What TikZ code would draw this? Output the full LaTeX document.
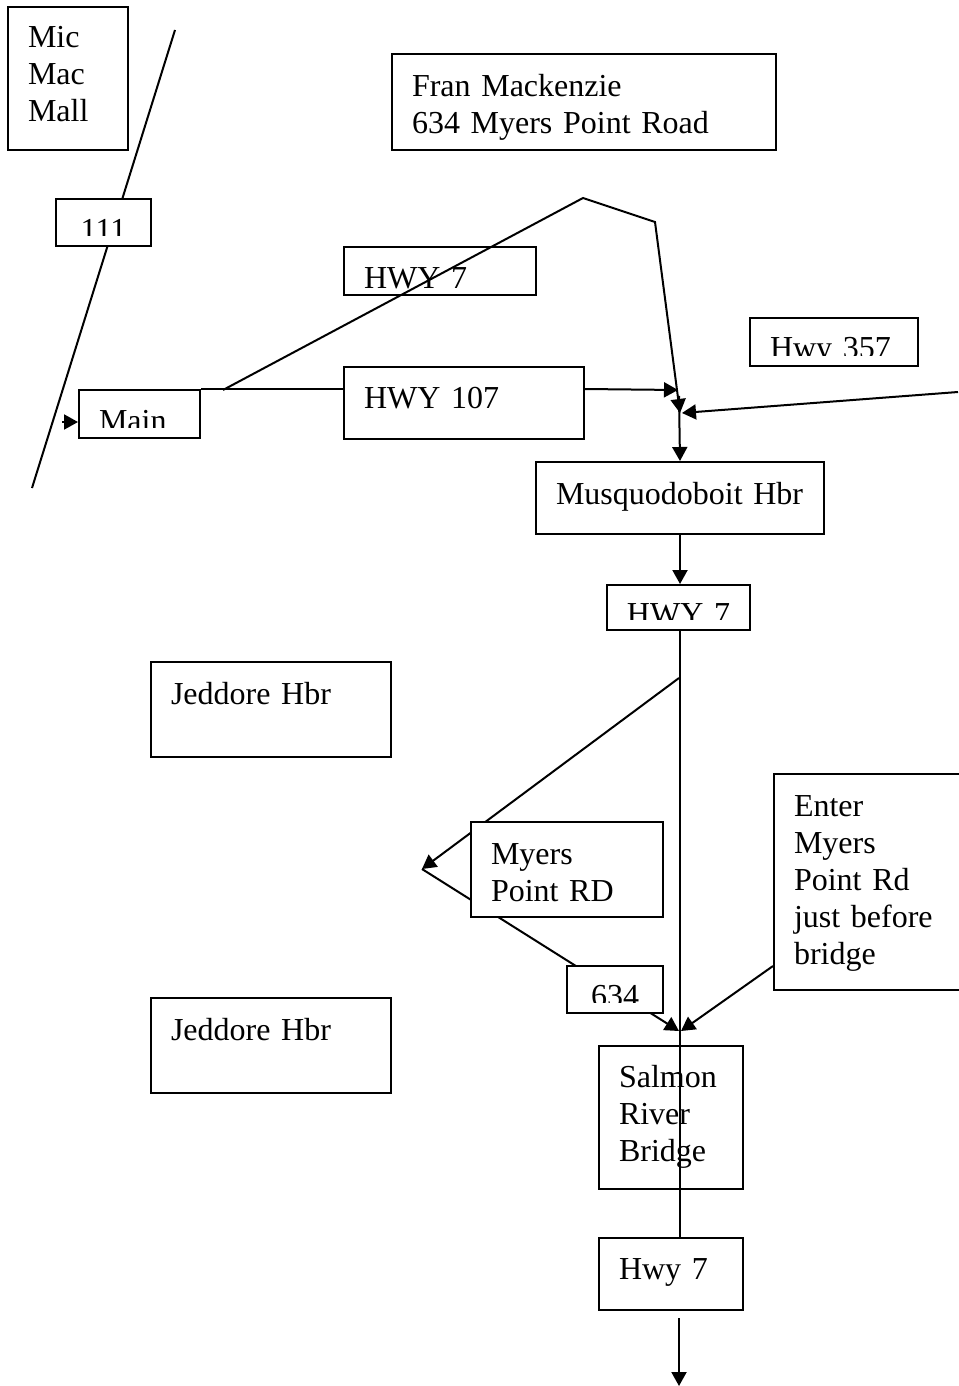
\documentclass[tikz,border=0pt]{standalone}
\usepackage{fontspec}
\setmainfont{Liberation Serif}
\usetikzlibrary{arrows.meta}
\newcommand\roadfont{\fontsize{16pt}{18.5pt}\selectfont}

\begin{document}
\begin{tikzpicture}[x=0.5pt,y=-0.5pt,>={Triangle[length=7pt,width=7.5pt]},line width=1pt,
                box/.style={draw,fill=white,align=left,anchor=base west,inner xsep=10pt,inner ysep=0pt,
                  font=\roadfont}]
  \useasboundingbox (0,0) rectangle (958,1386);

  \coordinate (top) at (175,30);
  \coordinate (bot) at (32,488);
  \coordinate (split) at (679,678);
  \coordinate (tip) at (422,869);
  \coordinate (merge) at (679,1031);

  \draw (top) -- (bot);
  \draw[->] (split) -- (tip);
  \draw[->] (tip) -- (merge);

  \node[box,text width=40pt,text height=20.5pt,text depth=51pt] (mall) at (7,48) {Mic\\Mac\\Mall};
  \node[box,align=center,inner xsep=0pt,text width=47.5pt,text height=20.5pt,text depth=3pt] (r111) at (55,240) {111};
  \node[box,text width=172pt,text height=21.5pt,text depth=26.5pt] (fran) at (391,97) {Fran Mackenzie\\634 Myers Point Road};
  \node[box,text width=76pt,text height=20.5pt,text depth=3.5pt] (hwy7a) at (343,288) {HWY 7};
  \node[box,text width=100pt,text height=20.5pt,text depth=15.5pt] (hwy107) at (343,408) {HWY 107};
  \node[box,text width=64pt,text height=20pt,text depth=4pt] (hwy357) at (749,358) {Hwy 357};
  \node[box,text width=40.5pt,text height=20.5pt,text depth=3.5pt] (mainrd) at (78,431) {Main};
  \node[box,text width=124pt,text height=21pt,text depth=15pt] (musq) at (535,504) {Musquodoboit Hbr};
  \node[box,align=center,inner xsep=0pt,text width=71.5pt,text height=19.5pt,text depth=3pt] (hwy7b) at (606,624) {HWY 7};
  \node[box,text width=100pt,text height=21pt,text depth=26.5pt] (jedd1) at (150,704) {Jeddore Hbr};
  \node[box,text width=76pt,text height=21pt,text depth=26.5pt] (myers) at (470,864) {Myers\\Point RD};
  \node[box,text width=85pt,text height=21pt,text depth=87pt] (enter) at (773,816) {Enter\\Myers\\Point Rd\\just before\\bridge};
  \node[box,align=center,inner xsep=0pt,text width=48pt,text height=20pt,text depth=3.5pt] (n634) at (566,1006) {634};
  \node[box,text width=100pt,text height=21pt,text depth=26.5pt] (jedd2) at (150,1040) {Jeddore Hbr};
  \node[box,text width=52pt,text height=20.5pt,text depth=51pt] (salmon) at (598,1087) {Salmon\\River\\Bridge};
  \node[box,text width=52pt,text height=20.5pt,text depth=15.5pt] (hwy7c) at (598,1279) {Hwy 7};

  % text cut off at the inner bottom margin of the small boxes
  \foreach \n in {r111,hwy357,mainrd,hwy7b,n634}
    \fill[white] ([shift={(1.1pt,1.1pt)}]\n.south west) rectangle ([shift={(-1.1pt,5.7pt)}]\n.south east);

  \coordinate (entry) at (62,422);
  \coordinate (fork) at (223,390);
  \coordinate (peak) at (583,198);
  \coordinate (bend) at (655,222);
  \coordinate (j0) at (679,396);
  \coordinate (j1) at (678,390);
  \coordinate (j2) at (680,413);
  \coordinate (j3) at (682,413);
  \coordinate (far) at (958,392);
  \coordinate (from) at (773,966);
  \coordinate (j4) at (681,1031);
  \coordinate (tail) at (679,1318);
  \coordinate (exit) at (679,1386);

  \draw[->] (entry) -- (entry -| mainrd.west);
  \draw (mainrd.north east) -- (mainrd.north east -| hwy107.west);
  \draw[->] (mainrd.north east -| hwy107.east) -- (j1);
  \draw[->] (fork) -- (peak) -- (bend) -- (j2);
  \draw[->] (far) -- (j3);
  \draw[->] (j0) -- (musq.north);
  \draw[->] (musq.south) -- (musq.south |- hwy7b.north);
  \draw (musq.south |- hwy7b.south) -- (musq.south |- hwy7c.north);
  \draw[->] (from) -- (j4);
  \draw[->] (tail) -- (exit);
\end{tikzpicture}
\end{document}
